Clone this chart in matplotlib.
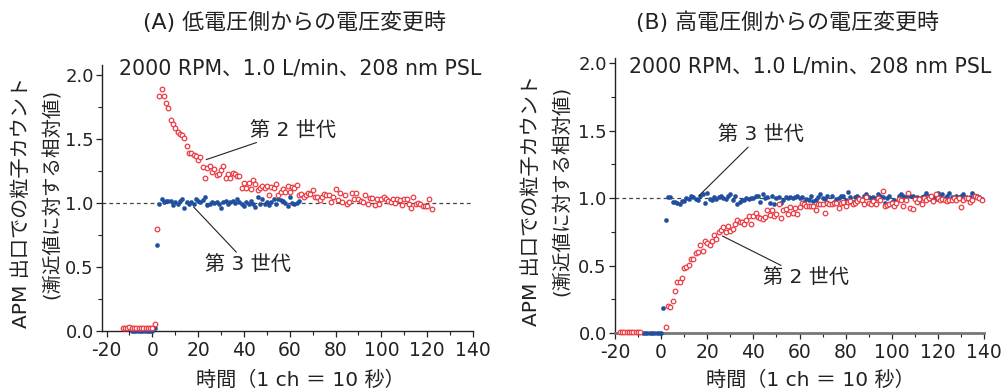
import matplotlib
matplotlib.use("Agg")
import matplotlib.pyplot as plt
from matplotlib.ticker import MultipleLocator

plt.rcParams['font.family'] = ['DejaVu Sans', 'Noto Sans CJK JP']
plt.rcParams['axes.unicode_minus'] = False

# ---------------- Data: panel A (low -> high voltage) ----------------
a_gen2_x = [-13, -12, -11, -10, -9, -8, -7, -6, -5, -4, -3, -2, -1, 0, 1,
            2, 3, 4, 5, 6, 7, 8, 9, 10, 11, 12, 13, 14, 15, 16, 17, 18, 19, 20,
            21, 22, 23, 24, 25, 26, 27, 28, 29, 30, 31, 32, 33, 34, 35, 36, 37, 38, 39, 40,
            41, 42, 43, 44, 45, 46, 47, 48, 49, 50, 51, 52, 53, 54, 55, 56, 57, 58, 59, 60,
            61, 62, 63, 64, 65, 66, 67, 68, 69, 70, 71, 72, 73, 74, 75, 76, 77, 78, 79, 80,
            81, 82, 83, 84, 85, 86, 87, 88, 89, 90, 91, 92, 93, 94, 95, 96, 97, 98, 99, 100,
            101, 102, 103, 104, 105, 106, 107, 108, 109, 110, 111, 112, 113, 114, 115, 116,
            117, 118, 119, 120, 121, 122]
a_gen2_y = [0.02, 0.025, 0.02, 0.03, 0.02, 0.025, 0.02, 0.025, 0.02, 0.02, 0.025, 0.02, 0.02, 0.025, 0.055,
            0.80, 1.835, 1.89, 1.84, 1.785, 1.74, 1.65, 1.62, 1.59, 1.555, 1.54, 1.535, 1.51, 1.45, 1.39, 1.39, 1.38, 1.37, 1.34,
            1.36, 1.28, 1.20, 1.275, 1.29, 1.24, 1.27, 1.22, 1.23, 1.26, 1.29, 1.20, 1.225, 1.20, 1.235, 1.23, 1.215, 1.21, 1.12, 1.16,
            1.115, 1.16, 1.11, 1.18, 1.15, 1.10, 1.12, 1.13, 1.12, 1.13, 1.06, 1.125, 1.12, 1.15, 1.065, 1.09, 1.11, 1.085, 1.135, 1.09,
            1.125, 1.12, 1.145, 1.06, 1.07, 1.05, 1.065, 1.08, 1.07, 1.10, 1.05, 1.05, 1.025, 1.05, 1.07, 1.06, 1.065, 1.01, 1.05, 1.11,
            1.025, 1.08, 1.01, 1.06, 0.995, 1.005, 1.08, 1.03, 1.08, 1.035, 1.02, 1.005, 1.06, 0.995, 1.04, 1.04, 0.985, 1.03, 0.99, 1.03,
            1.045, 1.03, 1.02, 1.005, 1.03, 1.0, 1.03, 1.025, 0.985, 1.03, 1.03, 0.995, 0.96, 1.045, 0.995, 1.0,
            0.995, 0.975, 0.98, 0.98, 1.03, 0.955]

a_gen3_x = [-9, -8, -7, -6, -5, -4, -3, -2, -1, 0, 1, 2,
            3, 4, 5, 6, 7, 8, 9, 10, 11, 12, 13, 14, 15, 16, 17, 18, 19, 20,
            21, 22, 23, 24, 25, 26, 27, 28, 29, 30, 31, 32, 33, 34, 35, 36, 37, 38, 39, 40,
            41, 42, 43, 44, 45, 46, 47, 48, 49, 50, 51, 52, 53, 54, 55, 56, 57, 58, 59, 60,
            61, 62, 63, 64]
a_gen3_y = [0.0, 0.0, 0.0, 0.0, 0.0, 0.0, 0.0, 0.0, 0.0, 0.0, 0.025, 0.67,
            0.995, 1.03, 1.01, 1.015, 1.015, 1.015, 0.985, 1.005, 0.99, 1.015, 1.03, 0.965, 1.005, 0.995, 1.005, 0.99, 1.03, 1.015,
            1.005, 1.025, 1.045, 0.985, 0.995, 1.005, 1.0, 1.01, 0.99, 0.965, 1.005, 1.015, 0.995, 1.005, 1.02, 1.0, 1.03, 1.005, 0.995, 0.975,
            1.01, 0.99, 1.015, 0.995, 0.97, 1.05, 0.99, 1.03, 0.995, 1.01, 0.985, 1.01, 1.03, 0.995, 1.03, 1.025, 1.015, 1.0, 0.975, 1.045,
            1.0, 0.995, 1.0, 1.02]

# ---------------- Data: panel B (high -> low voltage) ----------------
b_gen2_x = [-18, -17, -16, -15, -14, -13, -12, -11, -10, -9,
            2, 3, 4, 5, 6, 7, 8, 9, 10, 11, 12, 13, 14, 15, 16, 17, 18, 19, 20,
            21, 22, 23, 24, 25, 26, 27, 28, 29, 30, 31, 32, 33, 34, 35, 36, 37, 38, 39, 40,
            41, 42, 43, 44, 45, 46, 47, 48, 49, 50, 51, 52, 53, 54, 55, 56, 57, 58, 59, 60,
            61, 62, 63, 64, 65, 66, 67, 68, 69, 70, 71, 72, 73, 74, 75, 76, 77, 78, 79, 80,
            81, 82, 83, 84, 85, 86, 87, 88, 89, 90, 91, 92, 93, 94, 95, 96, 97, 98, 99, 100,
            101, 102, 103, 104, 105, 106, 107, 108, 109, 110, 111, 112, 113, 114, 115, 116, 117, 118, 119, 120,
            121, 122, 123, 124, 125, 126, 127, 128, 129, 130, 131, 132, 133, 134, 135, 136, 137, 138, 139]
b_gen2_y = [0.005, 0.005, 0.005, 0.005, 0.005, 0.005, 0.005, 0.005, 0.005, 0.005,
            0.045, 0.20, 0.19, 0.235, 0.315, 0.375, 0.38, 0.405, 0.485, 0.49, 0.505, 0.55, 0.55, 0.59, 0.60, 0.65, 0.605, 0.68, 0.67,
            0.65, 0.685, 0.73, 0.70, 0.75, 0.765, 0.79, 0.75, 0.795, 0.76, 0.77, 0.81, 0.84, 0.82, 0.825, 0.805, 0.84, 0.865, 0.81, 0.87,
            0.89, 0.86, 0.85, 0.845, 0.86, 0.915, 0.875, 0.915, 0.87, 0.88, 0.96, 0.85, 0.915, 0.92, 0.885, 0.935, 0.89, 0.925, 0.885, 0.935,
            0.965, 0.955, 0.94, 0.94, 0.94, 0.945, 0.915, 0.96, 0.955, 0.955, 0.89, 0.965, 0.96, 0.955, 0.965, 0.965, 0.93, 0.965, 0.97, 0.945,
            0.97, 0.98, 0.955, 0.965, 0.98, 0.995, 0.985, 0.955, 1.01, 0.965, 0.955, 0.98, 0.955, 1.005, 0.985, 1.05, 0.945, 0.95, 0.96, 0.965,
            0.945, 0.965, 0.995, 0.99, 0.945, 0.985, 1.04, 0.93, 0.92, 0.995, 0.97, 0.995, 0.96, 1.005, 0.985, 1.0, 1.02, 0.98, 1.03, 1.0,
            0.985, 0.995, 0.985, 0.98, 0.99, 0.985, 1.0, 0.99, 1.0, 0.935, 0.99, 1.0, 1.005, 0.975, 0.985, 1.02, 1.01, 1.0, 0.985]

b_gen3_x = [-8, -7, -6, -5, -4, -3, -2, -1, 0, 1, 2,
            3, 4, 5, 6, 7, 8, 9, 10, 11, 12, 13, 14, 15, 16, 17, 18, 19, 20,
            21, 22, 23, 24, 25, 26, 27, 28, 29, 30, 31, 32, 33, 34, 35, 36, 37, 38, 39, 40,
            41, 42, 43, 44, 45, 46, 47, 48, 49, 50, 51, 52, 53, 54, 55, 56, 57, 58, 59, 60,
            61, 62, 63, 64, 65, 66, 67, 68, 69, 70, 71, 72, 73, 74, 75, 76, 77, 78, 79, 80,
            81, 82, 83, 84, 85, 86, 87, 88, 89, 90, 91, 92, 93, 94, 95, 96, 97, 98, 99, 100,
            101, 102, 103, 104, 105, 106, 107, 108, 109, 110, 111, 112, 113, 114, 115, 116, 117, 118, 119, 120,
            121, 122, 123, 124, 125, 126, 127, 128, 129, 130, 131, 132, 133, 134, 135, 136, 137, 138, 139]
b_gen3_y = [0.0, 0.0, 0.0, 0.0, 0.0, 0.0, 0.0, 0.0, 0.0, 0.185, 0.835,
            1.01, 1.01, 0.975, 0.97, 0.965, 0.955, 0.98, 0.98, 1.005, 0.995, 1.02, 1.01, 0.995, 0.985, 1.02, 1.03, 0.965, 1.035,
            0.995, 0.985, 1.01, 0.995, 1.01, 1.02, 1.005, 0.995, 1.02, 1.03, 0.99, 1.02, 0.955, 0.97, 0.99, 0.985, 1.005, 0.995, 1.0, 1.0,
            1.02, 1.02, 0.975, 1.03, 1.0, 1.01, 0.965, 1.02, 0.955, 1.005, 1.01, 0.965, 0.99, 1.01, 1.005, 1.01, 1.0, 1.01, 1.02, 1.005,
            1.01, 0.975, 0.995, 0.99, 1.02, 0.98, 0.99, 1.01, 1.03, 1.0, 0.995, 1.02, 0.96, 1.02, 0.975, 0.995, 1.005, 1.02, 1.02, 0.985,
            1.045, 1.01, 0.975, 1.01, 1.02, 1.005, 0.99, 1.02, 1.03, 1.01, 1.0, 1.01, 1.0, 1.03, 1.02, 1.01, 0.965, 1.0, 1.02, 0.975,
            0.99, 0.975, 1.02, 1.03, 1.02, 1.01, 1.03, 1.02, 1.02, 1.0, 1.01, 0.99, 1.01, 1.02, 1.035, 1.02, 0.995, 1.01, 0.995, 1.035,
            1.01, 1.03, 1.005, 1.02, 1.035, 1.01, 0.995, 1.02, 1.01, 1.02, 1.03, 1.01, 1.0, 1.01, 1.035, 1.02, 1.02, 1.01, 0.995]

x_ticks = [-20, 0, 20, 40, 60, 80, 100, 120, 140]
y_ticks = [0.0, 0.5, 1.0, 1.5, 2.0]
titles = ["(A) 低電圧側からの電圧変更時", "(B) 高電圧側からの電圧変更時"]
condition = "2000 RPM、1.0 L/min、208 nm PSL"
ylabel1 = "APM 出口での粒子カウント"
ylabel2 = "(漸近値に対する相対値)"
xlabel = "時間（1 ch ＝ 10 秒）"
gen2_label = "第 2 世代"
gen3_label = "第 3 世代"

RED = "#ec3b43"
BLUE = "#1f4f9e"
TXT = "#222222"

W, H = 1001, 392
fig = plt.figure(figsize=(W / 100, H / 100), dpi=100)

def px_axes(left, right, bottom_px, top_px):
    return fig.add_axes([left / W, (H - bottom_px) / H, (right - left) / W, (bottom_px - top_px) / H])

axA = px_axes(102, 473, 331, 65)
axB = px_axes(615, 984, 333, 58)

panels = [
    (axA, (-22, 140), (0, 2.08), a_gen2_x, a_gen2_y, a_gen3_x, a_gen3_y),
    (axB, (-20, 140), (0, 2.04), b_gen2_x, b_gen2_y, b_gen3_x, b_gen3_y),
]

for ax, xl, yl, g2x, g2y, g3x, g3y in panels:
    ax.axhline(1.0, color="#444444", lw=0.9, ls=(0, (3, 2.5)), zorder=1)
    ax.plot(g3x, g3y, ls="none", marker="o", ms=3.0, mfc=BLUE, mec=BLUE, mew=0.3, zorder=3, clip_on=False)
    ax.plot(g2x, g2y, ls="none", marker="o", ms=3.3, mfc="white", mec=RED, mew=0.9, zorder=4, clip_on=False)
    ax.set_xlim(*xl)
    ax.set_ylim(*yl)
    ax.set_xticks(x_ticks)
    ax.xaxis.set_minor_locator(MultipleLocator(10))
    ax.set_yticks(y_ticks)
    ax.set_yticklabels([f"{v:.1f}" for v in y_ticks])
    ax.yaxis.set_minor_locator(MultipleLocator(0.25))
    for s in ["top", "right"]:
        ax.spines[s].set_visible(False)
    for s in ["left", "bottom"]:
        ax.spines[s].set_linewidth(1.0)
        ax.spines[s].set_color(TXT)
    ax.tick_params(axis="both", which="major", direction="out", length=4, width=0.9, color=TXT)
    ax.tick_params(axis="both", which="minor", direction="out", length=3, width=0.8, color=TXT)
    ax.tick_params(axis="x", labelsize=13.5, pad=3, labelcolor=TXT)
    ax.tick_params(axis="y", labelsize=13, pad=2, labelcolor=TXT)

axB.spines["bottom"].set_color("#777777")
axB.spines["bottom"].set_linewidth(2.0)

# titles
fig.text(295 / W, 1 - 22 / H, titles[0], ha="center", va="center", fontsize=15.8, color=TXT)
fig.text(788 / W, 1 - 22 / H, titles[1], ha="center", va="center", fontsize=15.8, color=TXT)
# conditions
fig.text(119 / W, 1 - 68 / H, condition, ha="left", va="center", fontsize=14.8, color=TXT)
fig.text(629 / W, 1 - 66 / H, condition, ha="left", va="center", fontsize=14.8, color=TXT)
# y labels
for xc1, xc2, yc in [(21, 52, 203), (531, 562, 200)]:
    fig.text(xc1 / W, 1 - yc / H, ylabel1, rotation=90, ha="center", va="center", fontsize=14.5, color=TXT)
    fig.text(xc2 / W, 1 - (yc - 9) / H, ylabel2, rotation=90, ha="center", va="center", fontsize=14, color=TXT)
# x labels
fig.text(300 / W, 1 - 380 / H, xlabel, ha="center", va="center", fontsize=14.5, color=TXT)
fig.text(810 / W, 1 - 380 / H, xlabel, ha="center", va="center", fontsize=14.5, color=TXT)

# annotations (data coordinates)
ann_kw = dict(fontsize=14.5, color=TXT, va="center", ha="left",
              arrowprops=dict(arrowstyle="-", color=TXT, lw=0.8, shrinkA=0, shrinkB=0))
axA.annotate(gen2_label, xy=(23.5, 1.34), xytext=(42.5, 1.57), **ann_kw)
axA.annotate(gen3_label, xy=(18, 0.97), xytext=(23, 0.52), **ann_kw)
axB.annotate(gen3_label, xy=(16.5, 1.02), xytext=(24.5, 1.47), **ann_kw)
axB.annotate(gen2_label, xy=(26.5, 0.72), xytext=(44, 0.41), **ann_kw)

fig.savefig("out.png", dpi=100)
